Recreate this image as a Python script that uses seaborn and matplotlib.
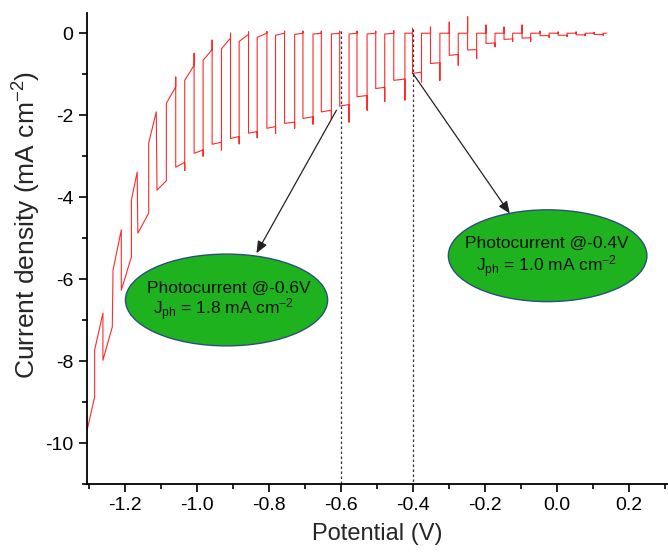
import numpy as np
import pandas as pd
import seaborn as sns
import matplotlib
matplotlib.use("Agg")
import matplotlib.pyplot as plt
from matplotlib.patches import Ellipse
from matplotlib.ticker import MultipleLocator, FuncFormatter

# ---------------- data ----------------
# sparse-sampled start of the scan (vertices of the red trace)
lead_v = [-1.303, -1.283, -1.283, -1.260, -1.260, -1.234, -1.232, -1.209, -1.209,
          -1.181, -1.181, -1.165, -1.163, -1.133, -1.133, -1.112, -1.110, -1.084]
lead_j = [-9.65, -8.88, -7.73, -6.83, -7.98, -7.17, -5.78, -4.80, -6.27,
          -5.46, -4.07, -3.39, -4.88, -4.39, -2.68, -1.92, -3.83, -3.60]

# chopped-light cycles: potential where light switches on / off
on_v = [-1.058, -1.007, -0.957, -0.906, -0.856, -0.805, -0.756, -0.705, -0.654, -0.603,
        -0.555, -0.503, -0.453, -0.401, -0.351, -0.299, -0.248, -0.197, -0.147, -0.097,
        -0.047, 0.003, 0.053, 0.103]
off_v = [-1.033, -0.982, -0.931, -0.882, -0.832, -0.781, -0.728, -0.677, -0.626, -0.577,
         -0.527, -0.478, -0.422, -0.376, -0.325, -0.274, -0.223, -0.172, -0.123, -0.073,
         -0.022, 0.028, 0.078, 0.128]
# dark current at start / end of the dark interval preceding each light-on, and overshoot
dark_start = [-1.71, -1.15, -0.66, -0.38, -0.20, -0.10, -0.05, -0.03, -0.02, -0.02,
              -0.02, -0.02, -0.02, 0.0, 0.0, 0.0, 0.0, 0.0, 0.0, 0.0,
              0.0, 0.0, 0.0, 0.0]
dark_end = [-1.31, -0.78, -0.40, -0.12, -0.03, 0.0, 0.0, 0.0, 0.0, 0.0,
            0.0, 0.0, 0.0, 0.0, 0.0, 0.0, 0.0, 0.0, 0.0, 0.0,
            0.0, 0.0, 0.0, 0.0]
dark_peak = [-1.07, -0.49, -0.17, 0.0, 0.03, 0.04, 0.05, 0.05, 0.05, 0.05,
             0.05, 0.05, 0.06, 0.12, 0.15, 0.27, 0.40, 0.20, 0.15, 0.20,
             0.05, 0.03, 0.03, 0.02]
# photocurrent level at start / end of each light interval and the dip at light-off
light_start = [-3.27, -2.93, -2.71, -2.57, -2.44, -2.32, -2.20, -2.08, -1.92, -1.78,
               -1.55, -1.35, -1.15, -0.98, -0.74, -0.54, -0.41, -0.25, -0.15, -0.12,
               -0.06, -0.05, -0.04, -0.03]
light_end = [-3.15, -2.85, -2.66, -2.52, -2.40, -2.28, -2.17, -2.04, -1.88, -1.74,
             -1.52, -1.32, -1.12, -0.95, -0.72, -0.52, -0.40, -0.24, -0.14, -0.11,
             -0.06, -0.05, -0.04, -0.03]
dip = [-3.35, -3.00, -2.85, -2.70, -2.55, -2.45, -2.32, -2.22, -2.10, -2.17,
       -1.88, -1.67, -1.63, -1.19, -1.15, -0.78, -0.62, -0.33, -0.20, -0.20,
       -0.10, -0.08, -0.06, -0.05]
tail_v = [0.138]
tail_j = [0.0]

# annotations
guide_v = [-0.6, -0.4]
guide_top = [0.05, 0.1]
arrow_from = [(-0.612, -1.88), (-0.400, -0.98)]
arrow_to = [(-0.834, -5.37), (-0.131, -4.40)]
ell_center = [(-0.917, -6.51), (-0.026, -5.43)]
ell_size = [(0.561, 2.24), (0.551, 2.24)]
ell_line1 = ["Photocurrent @-0.6V", "Photocurrent @-0.4V"]
ell_line2 = [r"J$_{\mathregular{ph}}$ = 1.8 mA cm$^{\mathregular{-2}}$",
             r"J$_{\mathregular{ph}}$ = 1.0 mA cm$^{\mathregular{-2}}$"]
ell_text_y = [(-6.22, -6.76), (-5.13, -5.70)]
ell_text_x = [(-0.911, -0.925), (-0.028, -0.028)]

# ---------------- build the polyline ----------------
vx = list(lead_v)
vy = list(lead_j)
for i in range(len(on_v)):
    vx += [vx[-1], on_v[i], on_v[i], on_v[i], off_v[i], off_v[i]]
    vy += [dark_start[i], dark_end[i], dark_peak[i], light_start[i], light_end[i], dip[i]]
vx += [off_v[-1]] + tail_v
vy += [0.0] + tail_j
df = pd.DataFrame({"Potential": vx, "Current": vy})

# ---------------- plotting ----------------
sns.set_theme(style="ticks")
plt.rcParams["font.family"] = ["Liberation Sans", "DejaVu Sans"]
plt.rcParams["mathtext.fontset"] = "custom"
plt.rcParams["mathtext.rm"] = "Liberation Sans"
plt.rcParams["mathtext.it"] = "Liberation Sans"
plt.rcParams["axes.unicode_minus"] = False

fig = plt.figure(figsize=(6.68, 5.53), dpi=100)
ax = fig.add_axes([0.1298, 0.1248, 0.8702, 0.8522])

sns.lineplot(data=df, x="Potential", y="Current", sort=False, estimator=None,
             color="#ff2a2a", lw=0.8, ax=ax)

for gv, gt in zip(guide_v, guide_top):
    ax.plot([gv, gv], [gt, -11.0], color="#333333", lw=0.9, ls=(0, (2, 2)))

for (x0, y0), (x1, y1) in zip(arrow_from, arrow_to):
    ax.annotate("", xy=(x1, y1), xytext=(x0, y0),
                arrowprops=dict(arrowstyle="-|>,head_length=0.6,head_width=0.25",
                                color="#222222", lw=0.9, shrinkA=0, shrinkB=0))

for c, s, t1, t2, ty, tx in zip(ell_center, ell_size, ell_line1, ell_line2, ell_text_y, ell_text_x):
    ax.add_patch(Ellipse(c, s[0], s[1], facecolor="#1fb21f", edgecolor="#2b4f7c", lw=1.0, zorder=3))
    ax.text(tx[0], ty[0], t1, ha="center", va="center", fontsize=12.5, color="#111111", zorder=4)
    ax.text(tx[1], ty[1], t2, ha="center", va="center", fontsize=12.5, color="#111111", zorder=4)

ax.set_xlim(-1.305, 0.308)
ax.set_ylim(-11.0, 0.5)
ax.set_xticks(np.arange(-1.2, 0.21, 0.2))
ax.xaxis.set_minor_locator(MultipleLocator(0.1))
ax.yaxis.set_major_locator(MultipleLocator(2))
ax.yaxis.set_minor_locator(MultipleLocator(1))
ax.xaxis.set_major_formatter(FuncFormatter(lambda v, p: f"{0.0 if abs(v) < 1e-9 else v:.1f}"))
ax.yaxis.set_major_formatter(FuncFormatter(lambda v, p: f"{int(round(v))}"))

sns.despine(ax=ax)
for sp in ["left", "bottom"]:
    ax.spines[sp].set_linewidth(1.3)
    ax.spines[sp].set_color("black")
ax.tick_params(which="major", direction="out", length=6, width=1.2, labelsize=14, colors="black")
ax.tick_params(which="minor", direction="out", length=3.5, width=1.2, colors="black")

ax.set_xlabel("Potential (V)", fontsize=17, labelpad=6)
ax.set_ylabel(r"Current density (mA cm$^{\mathregular{-2}}$)", fontsize=19)
ax.yaxis.set_label_coords(-0.076, 0.55)

fig.savefig("out.png", dpi=100)
